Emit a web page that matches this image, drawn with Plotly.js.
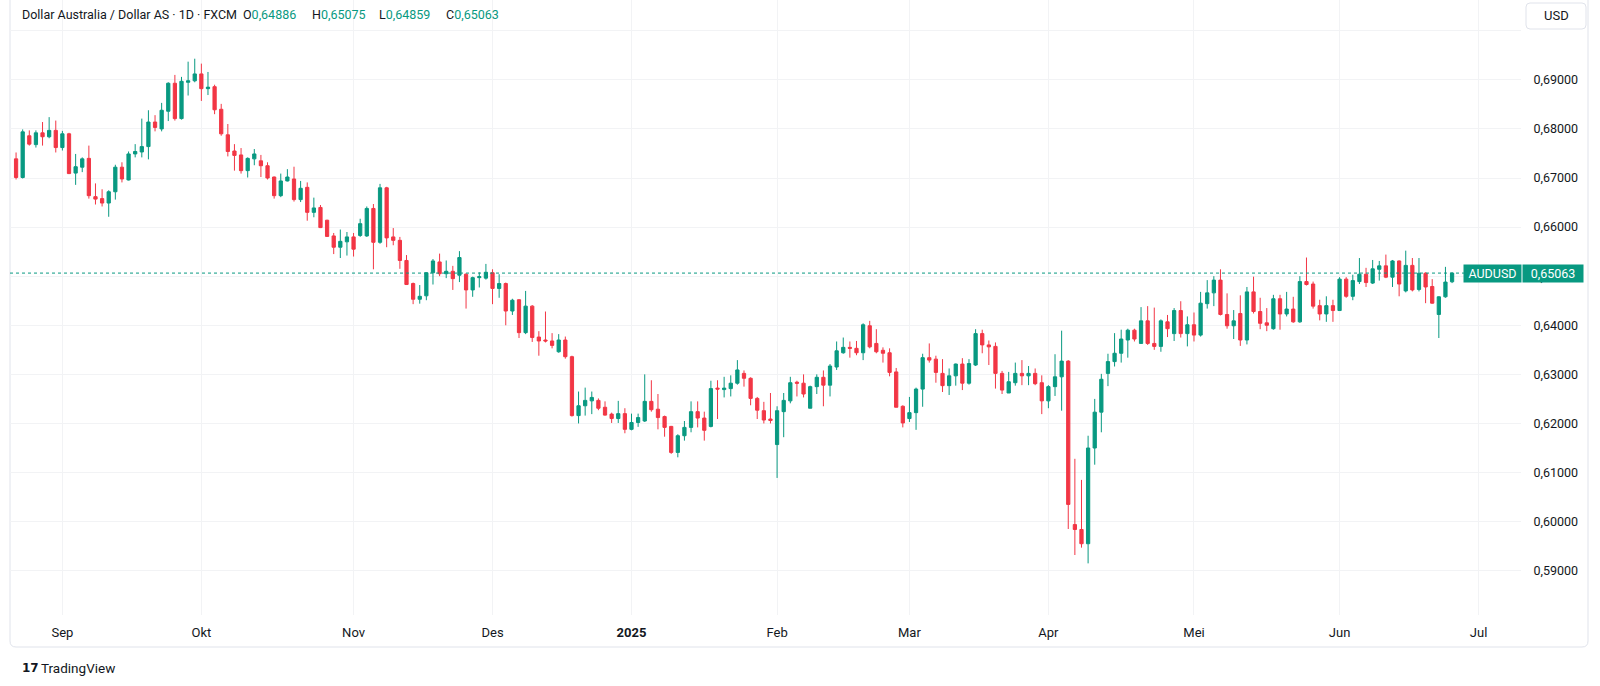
<!DOCTYPE html>
<html>
<head>
<meta charset="utf-8">
<script src="https://cdn.plot.ly/plotly-3.0.1.min.js"></script>
<style>
html,body{margin:0;padding:0;background:#fff;}
#chart{width:1600px;height:686px;}
</style>
</head>
<body>
<div id="chart"></div>
<script>
// ---------------- DATA (AUD/USD daily, FXCM) ----------------
const dates = [
'2024-08-22','2024-08-23','2024-08-26','2024-08-27','2024-08-28','2024-08-29','2024-08-30',
'2024-09-02','2024-09-03','2024-09-04','2024-09-05','2024-09-06','2024-09-09','2024-09-10','2024-09-11','2024-09-12','2024-09-13',
'2024-09-16','2024-09-17','2024-09-18','2024-09-19','2024-09-20','2024-09-23','2024-09-24','2024-09-25','2024-09-26','2024-09-27','2024-09-30',
'2024-10-01','2024-10-02','2024-10-03','2024-10-04','2024-10-07','2024-10-08','2024-10-09','2024-10-10','2024-10-11',
'2024-10-14','2024-10-15','2024-10-16','2024-10-17','2024-10-18','2024-10-21','2024-10-22','2024-10-23','2024-10-24','2024-10-25',
'2024-10-28','2024-10-29','2024-10-30','2024-10-31',
'2024-11-01','2024-11-04','2024-11-05','2024-11-06','2024-11-07','2024-11-08','2024-11-11','2024-11-12','2024-11-13','2024-11-14','2024-11-15',
'2024-11-18','2024-11-19','2024-11-20','2024-11-21','2024-11-22','2024-11-25','2024-11-26','2024-11-27','2024-11-28','2024-11-29',
'2024-12-02','2024-12-03','2024-12-04','2024-12-05','2024-12-06','2024-12-09','2024-12-10','2024-12-11','2024-12-12','2024-12-13',
'2024-12-16','2024-12-17','2024-12-18','2024-12-19','2024-12-20','2024-12-23','2024-12-24','2024-12-26','2024-12-27','2024-12-30','2024-12-31',
'2025-01-02','2025-01-03','2025-01-06','2025-01-07','2025-01-08','2025-01-09','2025-01-10','2025-01-13','2025-01-14','2025-01-15','2025-01-16','2025-01-17',
'2025-01-20','2025-01-21','2025-01-22','2025-01-23','2025-01-24','2025-01-27','2025-01-28','2025-01-29','2025-01-30','2025-01-31',
'2025-02-03','2025-02-04','2025-02-05','2025-02-06','2025-02-07','2025-02-10','2025-02-11','2025-02-12','2025-02-13','2025-02-14',
'2025-02-17','2025-02-18','2025-02-19','2025-02-20','2025-02-21','2025-02-24','2025-02-25','2025-02-26','2025-02-27','2025-02-28',
'2025-03-03','2025-03-04','2025-03-05','2025-03-06','2025-03-07','2025-03-10','2025-03-11','2025-03-12','2025-03-13','2025-03-14',
'2025-03-17','2025-03-18','2025-03-19','2025-03-20','2025-03-21','2025-03-24','2025-03-25','2025-03-26','2025-03-27','2025-03-28','2025-03-31',
'2025-04-01','2025-04-02','2025-04-03','2025-04-04','2025-04-07','2025-04-08','2025-04-09','2025-04-10','2025-04-11',
'2025-04-14','2025-04-15','2025-04-16','2025-04-17','2025-04-18','2025-04-21','2025-04-22','2025-04-23','2025-04-24','2025-04-25',
'2025-04-28','2025-04-29','2025-04-30',
'2025-05-01','2025-05-02','2025-05-05','2025-05-06','2025-05-07','2025-05-08','2025-05-09','2025-05-12','2025-05-13','2025-05-14','2025-05-15','2025-05-16',
'2025-05-19','2025-05-20','2025-05-21','2025-05-22','2025-05-23','2025-05-26','2025-05-27','2025-05-28','2025-05-29','2025-05-30',
'2025-06-02','2025-06-03','2025-06-04','2025-06-05','2025-06-06','2025-06-09','2025-06-10','2025-06-11','2025-06-12','2025-06-13',
'2025-06-16','2025-06-17','2025-06-18','2025-06-19','2025-06-20','2025-06-23','2025-06-24','2025-06-25'
];
const openP = [
.6739,.6701,.6786,.6768,.6792,.6784,.6797,
.6762,.6790,.6710,.6722,.6740,.6662,.6658,.6649,.6672,.6722,
.6696,.6749,.6753,.6764,.6814,.6800,.6836,.6893,.6821,.6895,.6898,
.6912,.6882,.6886,.6840,.6788,.6755,.6747,.6715,.6739,
.6735,.6725,.6702,.6664,.6694,.6698,.6656,.6681,.6630,.6640,
.6614,.6582,.6559,.6570,
.6580,.6583,.6582,.6638,.6569,.6680,.6580,.6573,.6532,.6485,.6453,
.6460,.6507,.6529,.6505,.6510,.6502,.6504,.6472,.6497,.6496,
.6507,.6475,.6485,.6429,.6452,.6385,.6439,.6376,.6370,.6368,
.6346,.6370,.6336,.6216,.6236,.6246,.6247,.6233,.6219,.6210,.6220,
.6188,.6202,.6205,.6245,.6229,.6214,.6194,.6141,.6175,.6192,.6224,.6211,
.6194,.6272,.6269,.6271,.6282,.6302,.6292,.6251,.6226,.6209,
.6157,.6224,.6246,.6284,.6282,.6231,.6275,.6294,.6278,.6315,
.6344,.6355,.6353,.6344,.6399,.6363,.6349,.6344,.6305,.6235,
.6210,.6222,.6270,.6334,.6331,.6302,.6277,.6297,.6321,.6282,
.6319,.6383,.6360,.6357,.6302,.6262,.6283,.6302,.6297,.6302,.6283,
.6246,.6275,.6295,.6327,.5994,.5984,.5955,.6150,.6223,
.6302,.6326,.6343,.6370,.6390,.6363,.6409,.6363,.6357,.6407,
.6383,.6430,.6383,
.6401,.6380,.6444,.6466,.6492,.6422,.6399,.6424,.6370,.6468,.6428,.6405,
.6393,.6454,.6423,.6433,.6407,.6489,.6484,.6440,.6423,.6440,
.6430,.6494,.6459,.6489,.6504,.6486,.6514,.6521,.6498,.6531,
.6470,.6522,.6473,.6506,.6479,.6422,.6458,.64886
];
const highP = [
.6752,.6799,.6797,.6797,.6814,.6824,.6817,
.6796,.6792,.6749,.6742,.6766,.6689,.6677,.6675,.6727,.6732,
.6754,.6769,.6821,.6838,.6828,.6853,.6895,.6910,.6906,.6937,.6943,
.6933,.6916,.6890,.6851,.6810,.6769,.6761,.6742,.6759,
.6747,.6732,.6703,.6709,.6718,.6723,.6694,.6691,.6660,.6645,
.6615,.6588,.6595,.6590,
.6588,.6617,.6642,.6647,.6688,.6682,.6598,.6580,.6543,.6487,.6482,
.6508,.6535,.6546,.6532,.6521,.6551,.6506,.6499,.6508,.6525,
.6514,.6504,.6487,.6454,.6453,.6470,.6441,.6388,.6428,.6384,
.6382,.6377,.6338,.6265,.6273,.6265,.6251,.6245,.6222,.6246,.6231,
.6220,.6220,.6300,.6288,.6260,.6216,.6195,.6178,.6205,.6245,.6245,.6224,
.6287,.6288,.6295,.6298,.6329,.6308,.6294,.6254,.6244,.6262,
.6235,.6262,.6295,.6287,.6300,.6277,.6300,.6308,.6321,.6367,
.6375,.6367,.6368,.6404,.6409,.6392,.6355,.6353,.6313,.6237,
.6254,.6273,.6342,.6363,.6338,.6331,.6312,.6322,.6333,.6331,
.6392,.6391,.6369,.6365,.6307,.6305,.6324,.6329,.6317,.6312,.6298,
.6278,.6341,.6389,.6329,.6128,.6085,.6175,.6250,.6301,
.6342,.6384,.6391,.6393,.6393,.6437,.6439,.6436,.6412,.6421,
.6435,.6449,.6418,
.6426,.6468,.6492,.6500,.6514,.6465,.6431,.6461,.6478,.6499,.6456,.6435,
.6462,.6462,.6468,.6458,.6500,.6538,.6489,.6452,.6459,.6452,
.6498,.6498,.6503,.6537,.6517,.6533,.6531,.6544,.6533,.6532,
.6552,.6537,.6537,.6508,.6494,.6459,.6519,.65075
];
const lowP = [
.6697,.6699,.6766,.6762,.6766,.6781,.6752,
.6756,.6708,.6686,.6712,.6658,.6646,.6642,.6621,.6656,.6691,
.6695,.6742,.6742,.6738,.6795,.6795,.6816,.6817,.6819,.6868,.6895,
.6857,.6869,.6830,.6786,.6744,.6715,.6709,.6701,.6726,
.6702,.6697,.6658,.6661,.6693,.6652,.6651,.6613,.6620,.6598,
.6580,.6545,.6537,.6542,
.6540,.6580,.6580,.6514,.6566,.6559,.6563,.6515,.6482,.6443,.6444,
.6451,.6483,.6500,.6496,.6472,.6488,.6434,.6458,.6477,.6493,
.6443,.6456,.6400,.6421,.6374,.6382,.6366,.6338,.6365,.6353,
.6344,.6332,.6214,.6200,.6216,.6219,.6227,.6216,.6201,.6201,.6180,
.6186,.6193,.6203,.6224,.6188,.6173,.6138,.6131,.6165,.6182,.6192,.6165,
.6192,.6209,.6253,.6255,.6279,.6275,.6237,.6209,.6200,.6200,
.6089,.6172,.6241,.6255,.6253,.6231,.6260,.6235,.6255,.6309,
.6342,.6334,.6339,.6329,.6353,.6343,.6324,.6296,.6233,.6192,
.6203,.6187,.6234,.6324,.6283,.6264,.6258,.6277,.6268,.6279,
.6317,.6343,.6319,.6271,.6260,.6262,.6277,.6278,.6278,.6278,.6219,
.6231,.6256,.6226,.5985,.5932,.5947,.5915,.6116,.6182,
.6276,.6316,.6324,.6334,.6367,.6363,.6360,.6350,.6346,.6376,
.6368,.6375,.6357,
.6367,.6377,.6434,.6439,.6420,.6393,.6372,.6358,.6361,.6424,.6392,.6388,
.6391,.6391,.6418,.6405,.6405,.6481,.6434,.6410,.6407,.6407,
.6430,.6456,.6451,.6484,.6478,.6484,.6491,.6496,.6478,.6459,
.6467,.6469,.6469,.6445,.6444,.6374,.6456,.64859
];
const closeP = [
.6701,.6794,.6769,.6792,.6784,.6797,.6762,
.6790,.6709,.6723,.6739,.6664,.6657,.6649,.6672,.6722,.6698,
.6749,.6754,.6764,.6814,.6803,.6838,.6893,.6821,.6897,.6898,.6912,
.6882,.6885,.6839,.6790,.6754,.6746,.6715,.6740,.6749,
.6725,.6700,.6664,.6694,.6702,.6656,.6679,.6630,.6639,.6599,
.6581,.6559,.6571,.6580,
.6555,.6607,.6638,.6569,.6680,.6578,.6573,.6532,.6483,.6453,.6459,
.6507,.6531,.6505,.6510,.6495,.6538,.6472,.6497,.6499,.6508,
.6475,.6485,.6429,.6451,.6385,.6439,.6375,.6368,.6368,.6359,
.6370,.6336,.6216,.6236,.6247,.6253,.6231,.6217,.6210,.6220,.6188,
.6202,.6212,.6245,.6228,.6212,.6192,.6141,.6175,.6192,.6224,.6211,.6186,
.6271,.6270,.6272,.6282,.6309,.6292,.6251,.6227,.6207,.6206,
.6226,.6247,.6283,.6282,.6260,.6275,.6294,.6278,.6317,.6348,
.6355,.6353,.6344,.6401,.6356,.6346,.6343,.6304,.6233,.6201,
.6222,.6270,.6334,.6329,.6304,.6277,.6297,.6321,.6282,.6322,
.6383,.6360,.6356,.6302,.6268,.6285,.6302,.6297,.6302,.6281,.6246,
.6275,.6295,.6327,.6035,.5984,.5955,.6150,.6223,.6290,
.6326,.6343,.6372,.6390,.6372,.6409,.6363,.6357,.6409,.6393,
.6430,.6383,.6401,
.6380,.6445,.6466,.6492,.6422,.6399,.6409,.6370,.6468,.6428,.6404,.6400,
.6454,.6423,.6433,.6407,.6489,.6483,.6439,.6423,.6440,.6430,
.6494,.6459,.6491,.6504,.6487,.6515,.6521,.6498,.6531,.6484,
.6522,.6472,.6506,.6478,.6445,.6458,.6488,.65063
];
const monthTicks  = ['2024-09-02','2024-10-01','2024-11-01','2024-12-02','2025-01-02','2025-02-03','2025-03-03','2025-04-01','2025-05-01','2025-06-02','2025-07-01'];
const monthLabels = ['Sep','Okt','Nov','Des','<b>2025</b>','Feb','Mar','Apr','Mei','Jun','Jul'];
const priceTicks  = [0.59,0.60,0.61,0.62,0.63,0.64,0.65,0.66,0.67,0.68,0.69,0.70];
const holidays    = ['2024-12-25','2025-01-01'];
const symbolName  = 'AUDUSD';
const titleText   = 'Dollar Australia / Dollar AS · 1D · FXCM';
const ohlcKeys    = ['O','H','L','C'];

// ---------------- LAYOUT HELPERS ----------------
const UP = '#089981', DOWN = '#F23645', TXT = '#131722', GRID = '#f2f3f5';
const P = {l:10, r:1521, t:0, b:615};
const X = p => (p - P.l) / (P.r - P.l);
const Y = p => (P.b - p) / (P.b - P.t);
const fmt = v => v.toFixed(5).replace('.', ',');
function roundRect(x0,y0,x1,y1,r){
  return `M ${X(x0+r)},${Y(y0)} L ${X(x1-r)},${Y(y0)} Q ${X(x1)},${Y(y0)} ${X(x1)},${Y(y0+r)} `+
         `L ${X(x1)},${Y(y1-r)} Q ${X(x1)},${Y(y1)} ${X(x1-r)},${Y(y1)} `+
         `L ${X(x0+r)},${Y(y1)} Q ${X(x0)},${Y(y1)} ${X(x0)},${Y(y1-r)} `+
         `L ${X(x0)},${Y(y0+r)} Q ${X(x0)},${Y(y0)} ${X(x0+r)},${Y(y0)} Z`;
}

const n = closeP.length - 1;
const lastVals = [openP[n], highP[n], lowP[n], closeP[n]];
const lastC = closeP[n];
const lastCol = closeP[n] >= openP[n] ? UP : DOWN;

const trace = {
  type:'candlestick', x:dates, open:openP, high:highP, low:lowP, close:closeP,
  increasing:{line:{color:UP, width:1}, fillcolor:UP},
  decreasing:{line:{color:DOWN, width:1}, fillcolor:DOWN},
  whiskerwidth:0, hoverinfo:'skip', showlegend:false
};

const FONT = 'Roboto, "Noto Sans", sans-serif';
const headerAnn = [
  {xref:'paper', yref:'paper', x:X(20), y:Y(14.5), xanchor:'left', yanchor:'middle',
   text:titleText, showarrow:false, font:{family:FONT, size:12.5, color:TXT}}
];
const ohlcX = [241, 310, 377, 444];
ohlcKeys.forEach((k,i) => headerAnn.push({
  xref:'paper', yref:'paper', x:X(ohlcX[i]), y:Y(14.5), xanchor:'left', yanchor:'middle',
  text:`${k}<span style="color:${lastCol}">${fmt(lastVals[i])}</span>`, showarrow:false,
  font:{family:FONT, size:12.5, color:TXT}
}));

const layout = {
  width:1600, height:686,
  margin:{l:P.l, r:1600-P.r, t:P.t, b:686-P.b, pad:0},
  paper_bgcolor:'#ffffff', plot_bgcolor:'#ffffff',
  font:{family:FONT, color:TXT, size:13},
  showlegend:false, hovermode:false, dragmode:false,
  xaxis:{
    type:'date',
    range:['2024-08-21 02:00','2025-07-09 10:00'],
    rangebreaks:[{bounds:['sat','mon']},{values:holidays}],
    rangeslider:{visible:false},
    tickmode:'array', tickvals:monthTicks, ticktext:monthLabels,
    showgrid:true, gridcolor:GRID, gridwidth:1,
    showline:false, zeroline:false,
    ticks:'outside', ticklen:5, tickcolor:'rgba(0,0,0,0)',
    tickfont:{family:FONT, size:13, color:TXT}
  },
  yaxis:{
    side:'right',
    range:[0.58098, 0.70626],
    tickmode:'array', tickvals:priceTicks,
    ticktext:priceTicks.map(v => v > 0.695 ? '' : fmt(v)),
    showgrid:true, gridcolor:GRID, gridwidth:1,
    showline:false, zeroline:false,
    ticks:'outside', ticklen:9, tickcolor:'rgba(0,0,0,0)',
    tickfont:{family:FONT, size:12.5, color:TXT}
  },
  shapes:[
    {type:'path', xref:'paper', yref:'paper', path:roundRect(10,-8,1588,647,6),
     line:{color:'#e0e3eb', width:1}, fillcolor:'rgba(0,0,0,0)', layer:'below'},
    {type:'line', xref:'paper', yref:'y', x0:0, x1:X(1464), y0:lastC, y1:lastC,
     line:{color:UP, width:1, dash:'dot'}, layer:'above'},
    {type:'path', xref:'paper', yref:'paper', path:roundRect(1526,3,1586,29,4),
     line:{color:'#e0e3eb', width:1}, fillcolor:'#ffffff', layer:'above'}
  ],
  annotations: headerAnn.concat([
    {xref:'paper', yref:'paper', x:X(1556), y:Y(16), xanchor:'center', yanchor:'middle',
     text:'USD', showarrow:false, font:{family:FONT, size:13, color:TXT}},
    {xref:'paper', yref:'y', x:X(1492.8), y:lastC, xanchor:'center', yanchor:'middle',
     text:symbolName, showarrow:false, bgcolor:UP, width:57, height:17, borderpad:0,
     font:{family:FONT, size:12.5, color:'#ffffff'}},
    {xref:'paper', yref:'y', x:X(1553.3), y:lastC, xanchor:'center', yanchor:'middle',
     text:fmt(lastC), showarrow:false, bgcolor:UP, width:60, height:17, borderpad:0,
     font:{family:FONT, size:12.5, color:'#ffffff'}},
    {xref:'paper', yref:'paper', x:X(20), y:Y(668), xanchor:'left', yanchor:'middle',
     text:'<b>17</b>', showarrow:false, font:{family:'"DejaVu Sans", sans-serif', size:12, color:TXT}},
    {xref:'paper', yref:'paper', x:X(39), y:Y(668), xanchor:'left', yanchor:'middle',
     text:'TradingView', showarrow:false, font:{family:FONT, size:13.5, color:TXT}}
  ])
};

Plotly.newPlot('chart', [trace], layout, {staticPlot:true, displayModeBar:false});
</script>
</body>
</html>
